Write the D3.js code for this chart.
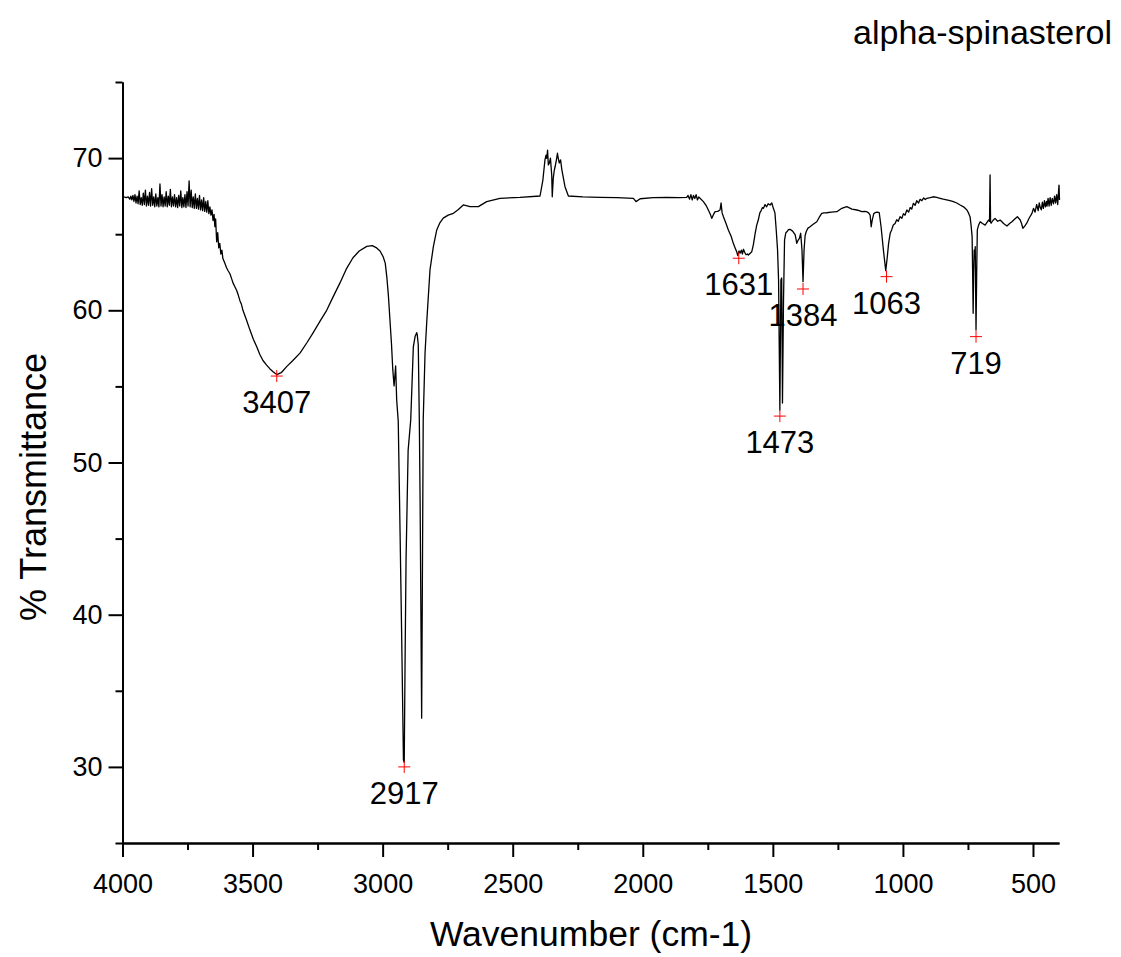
<!DOCTYPE html>
<html><head><meta charset="utf-8">
<script src="https://cdn.jsdelivr.net/npm/d3@7"></script>
<style>body{margin:0;background:#fff}svg{display:block}text{font-family:"Liberation Sans",Arial,sans-serif;fill:#000}</style>
</head><body>
<script>
const chartTitle = "alpha-spinasterol";
const xTitle = "Wavenumber (cm-1)";
const yTitle = "% Transmittance";
const xMajorTicks = [4000,3500,3000,2500,2000,1500,1000,500];
const xMinorTicks = [3750,3250,2750,2250,1750,1250,750];
const yMajorTicks = [30,40,50,60,70];
const yMinorTicks = [25,35,45,55,65,75];
// wavenumber (cm-1)
const wavenumber = [
4000,3992,3985,3978,3972,3968,3964,3960,3956,3952,3948,3944,3940,3936,3932,3928,3924,3920,3916,3912,3908,3904,3900,3896,3892,3888,3884,3880,3876,3872,
3868,3864,3860,3856,3852,3848,3844,3840,3836,3832,3828,3824,3820,3816,3812,3808,3804,3800,3796,3792,3788,3784,3780,3776,3772,3768,3764,3760,3756,3752,
3748,3744,3740,3736,3732,3728,3724,3720,3716,3712,3708,3704,3700,3696,3692,3688,3684,3680,3676,3672,3668,3664,3660,3656,3652,3648,3645,3642,3638,3634,
3630,3626,3622,3618,3614,3608,3600,3594,3587,3580,3574,3568,3561,3555,3549,3543,3537,3524,3510,3497,3484,3472,3460,3446,3433,3420,3407,3390,3369,3345,
3317,3290,3268,3240,3215,3190,3164,3140,3114,3090,3061,3040,3023,3010,2998,2990,2984,2978,2972,2966,2961,2956,2950,2946,2940,2933,2927,2920,2917,2914,
2910,2902,2892,2882,2875,2869,2867,2863,2859,2856,2850,2844,2837,2830,2818,2805,2792,2780,2767,2748,2728,2710,2690,2664,2632,2600,2549,2472,2395,2384,
2376,2372,2369,2366,2363,2359,2355,2350,2348,2344,2340,2337,2332,2328,2325,2321,2316,2311,2299,2286,2230,2164,2100,2036,2026,2010,1960,1908,1860,1831,
1826,1820,1815,1810,1805,1800,1795,1790,1785,1780,1767,1757,1748,1740,1735,1728,1722,1712,1703,1699,1695,1690,1680,1671,1660,1652,1645,1639,1635,1630,
1626,1621,1617,1613,1608,1603,1598,1594,1587,1581,1575,1568,1562,1556,1550,1545,1540,1536,1530,1524,1518,1511,1504,1498,1492,1487,1482,1478,1473,1469,
1466,1463,1459,1455,1450,1446,1440,1434,1424,1414,1408,1403,1398,1393,1388,1384,1380,1376,1372,1365,1357,1345,1331,1322,1312,1303,1293,1275,1254,1235,
1216,1196,1177,1168,1158,1148,1139,1132,1126,1122,1118,1112,1107,1099,1091,1084,1075,1066,1060,1055,1049,1043,1037,1030,1024,1018,1011,1004,998,992,
985,978,972,966,960,953,947,940,934,927,920,914,908,895,883,870,857,845,832,819,806,793,780,767,754,748,742,738,734,732,730,728,726,724,722,719,716,714,
709,703,694,684,678,671,667,665,663,661,654,646,636,626,613,600,590,581,570,560,555,549,544,539,531,524,515,504,498,492,486,480,476,472,468,464,460,456,
452,448,446,442,438,434,430,426,421,417,413,409,405,402,400,398];
// % transmittance
const transmittance = [
67.46,67.44,67.40,67.45,67.30,67.50,67.25,67.55,67.15,67.60,67.05,67.50,67.00,67.85,66.95,67.40,66.90,67.70,66.95,67.90,66.85,67.50,66.90,67.75,66.85,68.00,66.90,67.45,66.80,67.65,
66.85,67.40,66.80,68.30,66.85,67.60,66.80,67.45,66.85,67.80,66.80,67.50,66.90,67.95,66.80,67.45,66.85,67.60,66.80,67.40,66.75,67.55,66.85,67.85,66.75,67.40,66.80,67.60,66.75,67.80,
66.85,68.50,66.80,67.90,66.75,67.45,66.70,67.65,66.70,67.35,66.65,67.55,66.60,67.25,66.55,67.40,66.50,67.15,66.45,67.20,66.35,66.80,66.25,66.60,65.90,66.30,65.50,66.00,64.50,65.10,
64.10,64.40,63.70,63.95,63.40,63.15,62.80,62.60,62.40,62.05,61.75,61.55,61.30,61.00,60.65,60.40,60.00,59.40,58.70,58.10,57.60,57.10,56.70,56.40,56.15,55.95,55.78,55.90,56.30,56.70,
57.20,57.90,58.50,59.30,60.00,60.90,61.80,62.70,63.45,63.90,64.20,64.25,64.10,63.90,63.52,63.10,62.20,61.00,59.40,57.80,56.10,55.03,56.34,54.11,52.70,45.40,38.80,30.45,30.30,36.50,
43.60,50.80,52.80,57.60,58.30,58.53,58.40,57.72,52.79,47.54,33.20,52.79,57.19,59.36,62.65,64.18,65.28,65.75,66.06,66.25,66.37,66.60,66.92,66.81,66.81,67.14,67.36,67.42,67.51,68.56,
69.88,70.20,69.99,70.53,69.55,69.68,70.00,68.89,67.46,68.69,69.22,69.43,69.88,70.32,70.00,69.68,69.88,69.22,68.12,67.51,67.45,67.42,67.40,67.36,67.14,67.33,67.40,67.42,67.40,67.42,
67.55,67.30,67.60,67.25,67.55,67.35,67.60,67.25,67.45,67.36,67.14,66.90,66.59,66.30,66.04,66.30,66.48,66.50,66.59,67.05,66.40,66.15,65.70,65.28,64.85,64.40,64.10,63.85,63.60,63.90,
63.75,63.95,63.70,64.01,63.80,63.65,63.70,63.63,63.75,63.85,64.30,65.06,65.60,65.93,66.40,66.55,66.75,66.70,66.95,66.80,67.00,66.92,67.05,66.70,66.40,65.28,64.00,61.99,53.45,61.99,
62.12,53.91,60.68,64.62,65.10,65.16,65.30,65.32,65.20,64.95,64.40,64.60,64.73,65.06,63.96,61.88,63.96,64.90,65.16,65.40,65.49,65.65,65.82,66.10,66.37,66.40,66.41,66.45,66.48,66.70,
66.81,66.65,66.59,66.55,66.48,66.50,66.48,66.40,66.26,65.49,65.93,66.35,66.41,66.45,66.41,65.49,63.96,62.60,63.52,64.40,65.06,65.30,65.60,65.70,65.95,65.85,66.15,66.05,66.35,66.25,
66.59,66.45,66.75,66.65,67.03,66.90,67.20,67.05,67.29,67.20,67.38,67.28,67.36,67.40,67.46,67.42,67.36,67.30,67.25,67.20,67.14,67.05,66.92,66.80,66.59,66.40,66.15,65.60,64.84,62.50,59.80,62.50,63.96,63.50,64.18,58.71,63.00,65.28,
65.60,65.82,65.70,65.60,65.75,65.93,65.85,68.89,65.80,65.72,65.90,66.04,65.85,65.93,65.70,65.54,65.70,65.82,66.00,66.15,66.05,65.93,65.70,65.39,65.55,65.72,66.05,66.37,66.70,66.45,66.95,66.55,67.05,66.75,66.60,67.10,66.70,
67.20,66.80,67.15,66.85,67.35,66.85,67.40,66.90,67.35,67.00,67.50,67.05,67.60,66.95,67.75,68.23,67.25,67.46];
// labelled peaks: wavenumber and marker transmittance
const peakWavenumber = [3407,2917,1631,1473,1384,1063,719];
const peakTransmittance = [55.68,30.0,63.42,53.05,61.4,62.21,58.27];

const W=1121,H=957;
const svg=d3.select("body").append("svg").attr("width",W).attr("height",H);
const x=d3.scaleLinear().domain([4000,400]).range([122.5,1059]);
const y=d3.scaleLinear().domain([25,75]).range([843,82]);

// x axis
const gx=svg.append("g").attr("transform","translate(0,843)");
gx.call(d3.axisBottom(x).tickValues(xMajorTicks).tickSize(14).tickSizeOuter(0).tickPadding(10).tickFormat(d3.format("d")));
gx.append("g").call(d3.axisBottom(x).tickValues(xMinorTicks).tickSize(7).tickSizeOuter(0).tickFormat(""));
// y axis
const gy=svg.append("g").attr("transform","translate(122.5,0)");
gy.call(d3.axisLeft(y).tickValues(yMajorTicks).tickSize(14).tickSizeOuter(0).tickPadding(6).tickFormat(d3.format("d")));
gy.append("g").call(d3.axisLeft(y).tickValues(yMinorTicks).tickSize(7).tickSizeOuter(0).tickFormat(""));
svg.selectAll(".domain").attr("stroke","#000").attr("stroke-width",2);
svg.selectAll(".tick line").attr("stroke","#000").attr("stroke-width",2);
svg.selectAll(".tick text").attr("font-size",27).attr("font-family","Liberation Sans, Arial");
gx.selectAll(".tick text").attr("dy","0.95em");

// spectrum
const pts=wavenumber.map((w,i)=>[w,transmittance[i]]);
svg.append("path").datum(pts)
 .attr("fill","none").attr("stroke","#000").attr("stroke-width",1.3).attr("stroke-linejoin","round")
 .attr("d",d3.line().x(d=>x(d[0])).y(d=>y(d[1])));

// peak markers
const peaks=peakWavenumber.map((w,i)=>({w,t:peakTransmittance[i]}));
const pg=svg.append("g");
peaks.forEach(p=>{
  const px=x(p.w),py=y(p.t);
  pg.append("line").attr("x1",px-6).attr("x2",px+6).attr("y1",py).attr("y2",py).attr("stroke","#ff0000").attr("stroke-width",1);
  pg.append("line").attr("x1",px).attr("x2",px).attr("y1",py-6).attr("y2",py+6).attr("stroke","#ff0000").attr("stroke-width",1);
  pg.append("text").attr("x",px).attr("y",py+37).attr("text-anchor","middle").attr("font-size",31).text(p.w);
});

// titles
svg.append("text").attr("x",1112).attr("y",44).attr("text-anchor","end").attr("font-size",34).text(chartTitle);
svg.append("text").attr("x",591).attr("y",946).attr("text-anchor","middle").attr("font-size",35.5).text(xTitle);
svg.append("text").attr("transform","translate(46,487) rotate(-90)").attr("text-anchor","middle").attr("font-size",36).text(yTitle);
</script>
</body></html>
